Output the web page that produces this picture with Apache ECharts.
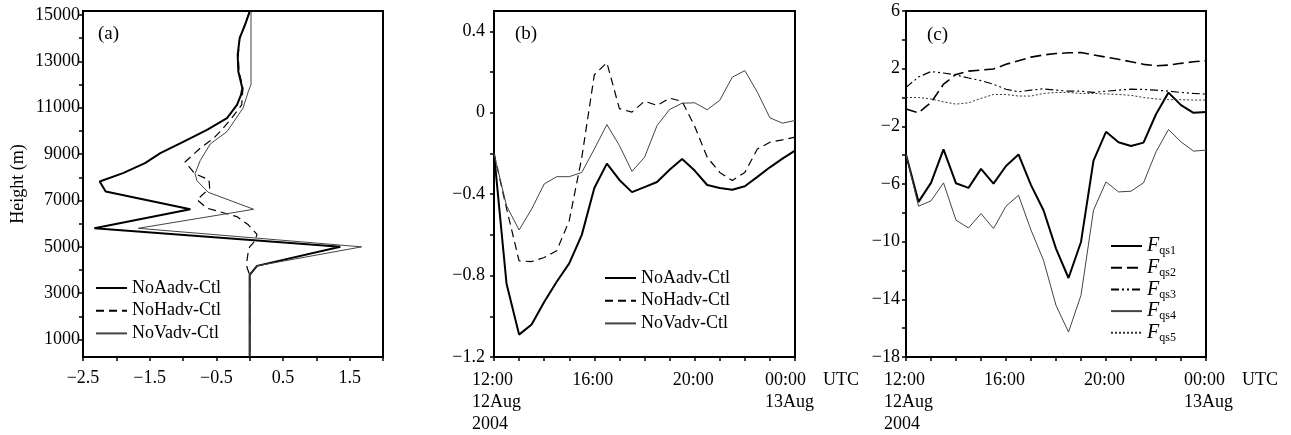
<!doctype html>
<html>
<head>
<meta charset="UTF-8">
<title>advection tests</title>
<style>
    body { margin: 0; background: #fff; }
    #main { width: 1291px; height: 435px; }
</style>
</head>
<body>
<div id="main"></div>
<script src="https://cdn.jsdelivr.net/npm/echarts@6.0.0/dist/echarts.min.js"></script>
<script>
    // ---- panel (a): vertical profiles (x value, height in m) ----
    var aNoAadvH = [15140, 14570, 14000, 13280, 12560, 11840, 11550, 11120, 10550, 10040, 9540, 9040, 8610, 8180, 7820, 7390, 6620, 5800, 5000, 4180, 3790, 250];
    var aNoAadvX = [0.0, -0.07, -0.15, -0.18, -0.17, -0.11, -0.13, -0.19, -0.34, -0.64, -0.99, -1.34, -1.57, -1.90, -2.25, -2.16, -0.89, -2.33, 1.36, 0.11, 0.0, 0.0];
    var aNoHadvH = [15140, 14000, 13280, 12560, 11840, 11120, 10550, 10040, 9690, 9260, 8660, 8150, 7890, 7530, 7030, 6670, 6300, 5950, 5540, 5260, 5000, 4830, 4400, 4110, 3790, 250];
    var aNoHadvX = [0.0, -0.15, -0.17, -0.16, -0.1, -0.12, -0.27, -0.42, -0.54, -0.74, -0.97, -0.82, -0.61, -0.6, -0.79, -0.64, -0.19, -0.02, 0.11, 0.08, 0.0, -0.02, -0.04, -0.04, 0.0, 0.0];
    var aNoVadvH = [15140, 12000, 11700, 10980, 9970, 9440, 8730, 8150, 7850, 7350, 6620, 5800, 5000, 4180, 3790, 250];
    var aNoVadvX = [0.02, 0.02, -0.02, -0.1, -0.34, -0.59, -0.74, -0.82, -0.79, -0.62, 0.06, -1.67, 1.68, 0.11, 0.0, 0.0];
    var aXTicks = [-2.5, -2, -1.5, -1, -0.5, 0, 0.5, 1, 1.5, 2];
    var aXLabels = [-2.5, -1.5, -0.5, 0.5, 1.5];
    var aYTicks = [1000, 2000, 3000, 4000, 5000, 6000, 7000, 8000, 9000, 10000, 11000, 12000, 13000, 14000, 15000];
    var aYLabels = [1000, 3000, 5000, 7000, 9000, 11000, 13000, 15000];

    // ---- time axis shared by (b) and (c): hours after 12:00 UTC 12 Aug 2004 ----
    var hours = [0, 0.5, 1, 1.5, 2, 2.5, 3, 3.5, 4, 4.5, 5, 5.5, 6, 6.5, 7, 7.5, 8, 8.5, 9, 9.5, 10, 10.5, 11, 11.5, 12];
    var hourTicks = [0, 1, 2, 3, 4, 5, 6, 7, 8, 9, 10, 11, 12];
    var timeLabelAt = [0, 4, 8, 12];
    var clockLabels = ['12:00', '16:00', '20:00', '00:00'];

    // ---- panel (b) ----
    var bNoAadv = [-0.2, -0.84, -1.09, -1.04, -0.93, -0.83, -0.74, -0.6, -0.37, -0.25, -0.33, -0.39, -0.365, -0.34, -0.28, -0.227, -0.284, -0.355, -0.37, -0.378, -0.361, -0.315, -0.268, -0.225, -0.186];
    var bNoHadv = [-0.2, -0.47, -0.728, -0.731, -0.711, -0.678, -0.53, -0.22, 0.187, 0.246, 0.02, 0.003, 0.057, 0.036, 0.072, 0.056, -0.066, -0.219, -0.293, -0.333, -0.293, -0.178, -0.145, -0.133, -0.12];
    var bNoVadv = [-0.2, -0.457, -0.576, -0.473, -0.35, -0.314, -0.314, -0.293, -0.178, -0.058, -0.161, -0.288, -0.219, -0.063, 0.016, 0.047, 0.049, 0.015, 0.061, 0.175, 0.207, 0.101, -0.025, -0.051, -0.038];
    var bYTicks = [-1.2, -1.0, -0.8, -0.6, -0.4, -0.2, 0, 0.2, 0.4];
    var bYLabels = [-1.2, -0.8, -0.4, 0, 0.4];

    // ---- panel (c) ----
    var fqs1 = [-3.95, -7.24, -5.92, -3.6, -5.95, -6.27, -4.95, -5.97, -4.75, -3.95, -6.08, -7.82, -10.48, -12.52, -10.02, -4.38, -2.38, -3.1, -3.36, -3.13, -1.16, 0.34, -0.53, -1.06, -1.0];
    var fqs2 = [-0.8, -1.06, -0.35, 0.92, 1.6, 1.83, 1.9, 1.98, 2.3, 2.55, 2.8, 2.95, 3.05, 3.1, 3.12, 2.95, 2.8, 2.65, 2.48, 2.3, 2.2, 2.25, 2.37, 2.48, 2.55];
    var fqs3 = [0.7, 1.42, 1.8, 1.7, 1.56, 1.35, 1.17, 0.92, 0.57, 0.4, 0.51, 0.6, 0.51, 0.44, 0.44, 0.35, 0.44, 0.51, 0.58, 0.56, 0.51, 0.44, 0.35, 0.28, 0.24];
    var fqs4 = [-3.95, -7.54, -7.17, -5.92, -8.51, -9.05, -8.05, -9.09, -7.54, -6.78, -9.2, -11.29, -14.42, -16.27, -13.72, -7.82, -5.85, -6.55, -6.5, -5.92, -3.77, -2.22, -3.08, -3.72, -3.65];
    var fqs5 = [0.0, 0.0, -0.1, -0.3, -0.46, -0.37, -0.06, 0.21, 0.21, 0.1, 0.1, 0.28, 0.35, 0.35, 0.28, 0.28, 0.25, 0.21, 0.15, 0.0, -0.1, -0.15, -0.15, -0.18, -0.18];
    var cYTicks = [-18, -16, -14, -12, -10, -8, -6, -4, -2, 0, 2, 4, 6];
    var cYLabels = [-18, -14, -10, -6, -2, 2, 6];

    var serif = '"Liberation Serif", "Times New Roman", serif';

    function pairs(xs, ys) {
        return xs.map(function (x, i) { return [x, ys[i]]; });
    }
    function signed(v, digits) {
        var s = Math.abs(v).toFixed(digits);
        if (Math.abs(v) < 1e-9) return '0';
        return v < 0 ? '\u2212' + s : s;
    }
    function timeLabel(v) {
        var i = timeLabelAt.indexOf(v);
        if (i < 0) return '';
        if (v === 0) return '{w|' + clockLabels[i] + '}\n{w|12Aug}\n{w|2004}';
        if (v === 12) return '{p| }{w|' + clockLabels[i] + '}{g| }{u|UTC}\n{p| }{w|13Aug}{g| }{u| }';
        return '{w|' + clockLabels[i] + '}';
    }

    var tickStyle = { length: 4, lineStyle: { color: '#000', width: 1.5 } };
    var axisLineStyle = { show: true, onZero: false, lineStyle: { color: '#000', width: 2 } };
    var labelBase = { color: '#000', fontSize: 18, fontFamily: serif };

    function timeRich(padW) {
        return {
            w: { width: 44, align: 'left', fontSize: 18, lineHeight: 22, fontFamily: serif, color: '#000' },
            p: { width: padW, align: 'left', fontSize: 18, lineHeight: 22, fontFamily: serif },
            g: { width: 14, align: 'left', fontSize: 18, lineHeight: 22, fontFamily: serif },
            u: { width: 36, align: 'left', fontSize: 18, lineHeight: 22, fontFamily: serif, color: '#000' }
        };
    }

    function timeAxis(gridIndex, padW) {
        return {
            gridIndex: gridIndex, type: 'value', min: 0, max: 12,
            axisLine: axisLineStyle,
            axisTick: Object.assign({ customValues: hourTicks }, tickStyle),
            axisLabel: {
                customValues: timeLabelAt, formatter: timeLabel, margin: 12,
                showMaxLabel: true, showMinLabel: true, rich: timeRich(padW)
            },
            splitLine: { show: false }
        };
    }

    function lineSeries(name, xi, yi, data, width, type, color) {
        return {
            name: name, type: 'line', xAxisIndex: xi, yAxisIndex: yi, data: data,
            symbol: 'none', smooth: false,
            lineStyle: { color: color || '#000', width: width, type: type },
            itemStyle: { color: color || '#000' }
        };
    }

    // legend shows only the line sample, no marker
    var hiddenMarker = { color: 'rgba(0,0,0,0)', borderWidth: 0, opacity: 0 };
    var dashA = [8, 5];
    var thinGray = '#444';

    var myChart = echarts.init(document.getElementById('main'));
    var option = {
        animation: false,
        backgroundColor: '#fff',
        title: [
            { text: '(a)', left: 93, top: 20, textStyle: { fontSize: 19, fontWeight: 'normal', fontFamily: serif, color: '#000' } },
            { text: '(b)', left: 510, top: 20, textStyle: { fontSize: 19, fontWeight: 'normal', fontFamily: serif, color: '#000' } },
            { text: '(c)', left: 922, top: 21, textStyle: { fontSize: 19, fontWeight: 'normal', fontFamily: serif, color: '#000' } }
        ],
        grid: [
            { left: 83, top: 11, width: 300, height: 346, show: true, borderColor: '#000', borderWidth: 2, outerBoundsMode: 'none' },
            { left: 494, top: 11, width: 301, height: 346, show: true, borderColor: '#000', borderWidth: 2, outerBoundsMode: 'none' },
            { left: 906, top: 11, width: 300, height: 346, show: true, borderColor: '#000', borderWidth: 2, outerBoundsMode: 'none' }
        ],
        xAxis: [
            {
                gridIndex: 0, type: 'value', min: -2.5, max: 2,
                axisLine: axisLineStyle,
                axisTick: Object.assign({ customValues: aXTicks }, tickStyle),
                axisLabel: Object.assign({ customValues: aXLabels, margin: 12, formatter: function (v) { return signed(v, 1); } }, labelBase),
                splitLine: { show: false }
            },
            timeAxis(1, 34),
            timeAxis(2, 50)
        ],
        yAxis: [
            {
                gridIndex: 0, type: 'value', min: 250, max: 15170,
                name: 'Height (m)', nameLocation: 'middle', nameGap: 56,
                nameTextStyle: { fontSize: 18, fontFamily: serif, color: '#000' },
                axisLine: axisLineStyle,
                axisTick: Object.assign({ customValues: aYTicks }, tickStyle),
                axisLabel: Object.assign({ customValues: aYLabels, margin: 3, formatter: function (v) { return String(v); } }, labelBase),
                splitLine: { show: false }
            },
            {
                gridIndex: 1, type: 'value', min: -1.2, max: 0.5,
                axisLine: axisLineStyle,
                axisTick: Object.assign({ customValues: bYTicks }, tickStyle),
                axisLabel: Object.assign({ customValues: bYLabels, margin: 9, formatter: function (v) { return signed(v, 1); } }, labelBase),
                splitLine: { show: false }
            },
            {
                gridIndex: 2, type: 'value', min: -18, max: 6,
                axisLine: axisLineStyle,
                axisTick: Object.assign({ customValues: cYTicks }, tickStyle),
                axisLabel: Object.assign({ customValues: cYLabels, margin: 6, formatter: function (v) { return signed(v, 0); } }, labelBase),
                splitLine: { show: false }
            }
        ],
        legend: [
            {
                left: 95, top: 278, padding: 0, orient: 'vertical', itemWidth: 31, itemHeight: 12, itemGap: 2.7,
                data: ['NoAadv-Ctl', 'NoHadv-Ctl', 'NoVadv-Ctl'],
                itemStyle: hiddenMarker,
                textStyle: { fontSize: 18, lineHeight: 20, fontFamily: serif, color: '#000' }
            },
            {
                left: 604, top: 268, padding: 0, orient: 'vertical', itemWidth: 31, itemHeight: 12, itemGap: 2.7,
                data: ['NoAadv-Ctl', 'NoHadv-Ctl', 'NoVadv-Ctl'],
                itemStyle: hiddenMarker,
                textStyle: { fontSize: 18, lineHeight: 20, fontFamily: serif, color: '#000' }
            },
            {
                left: 1110, top: 236, padding: 0, orient: 'vertical', itemWidth: 31, itemHeight: 12, itemGap: 0.7,
                data: ['Fqs1', 'Fqs2', 'Fqs3', 'Fqs4', 'Fqs5'],
                itemStyle: hiddenMarker,
                formatter: function (name) { return '{f|F}{s|' + name.slice(1) + '}'; },
                textStyle: {
                    color: '#000',
                    rich: {
                        f: { fontSize: 20, fontStyle: 'italic', fontFamily: serif, lineHeight: 22, color: '#000' },
                        s: { fontSize: 12, fontFamily: serif, lineHeight: 10, verticalAlign: 'bottom', color: '#000' }
                    }
                }
            }
        ],
        series: [
            lineSeries('NoAadv-Ctl', 0, 0, pairs(aNoAadvX, aNoAadvH), 2, 'solid'),
            lineSeries('NoHadv-Ctl', 0, 0, pairs(aNoHadvX, aNoHadvH), 1.2, dashA),
            lineSeries('NoVadv-Ctl', 0, 0, pairs(aNoVadvX, aNoVadvH), 1, 'solid', thinGray),

            lineSeries('NoAadv-Ctl', 1, 1, pairs(hours, bNoAadv), 2, 'solid'),
            lineSeries('NoHadv-Ctl', 1, 1, pairs(hours, bNoHadv), 1.2, dashA),
            lineSeries('NoVadv-Ctl', 1, 1, pairs(hours, bNoVadv), 1, 'solid', thinGray),

            lineSeries('Fqs1', 2, 2, pairs(hours, fqs1), 2, 'solid'),
            lineSeries('Fqs2', 2, 2, pairs(hours, fqs2), 1.6, [11, 5]),
            lineSeries('Fqs3', 2, 2, pairs(hours, fqs3), 1.2, [8, 3, 2, 3, 2, 3]),
            lineSeries('Fqs4', 2, 2, pairs(hours, fqs4), 1, 'solid', thinGray),
            lineSeries('Fqs5', 2, 2, pairs(hours, fqs5), 1, [2, 2], '#333')
        ]
    };
    myChart.setOption(option);
</script>
</body>
</html>
